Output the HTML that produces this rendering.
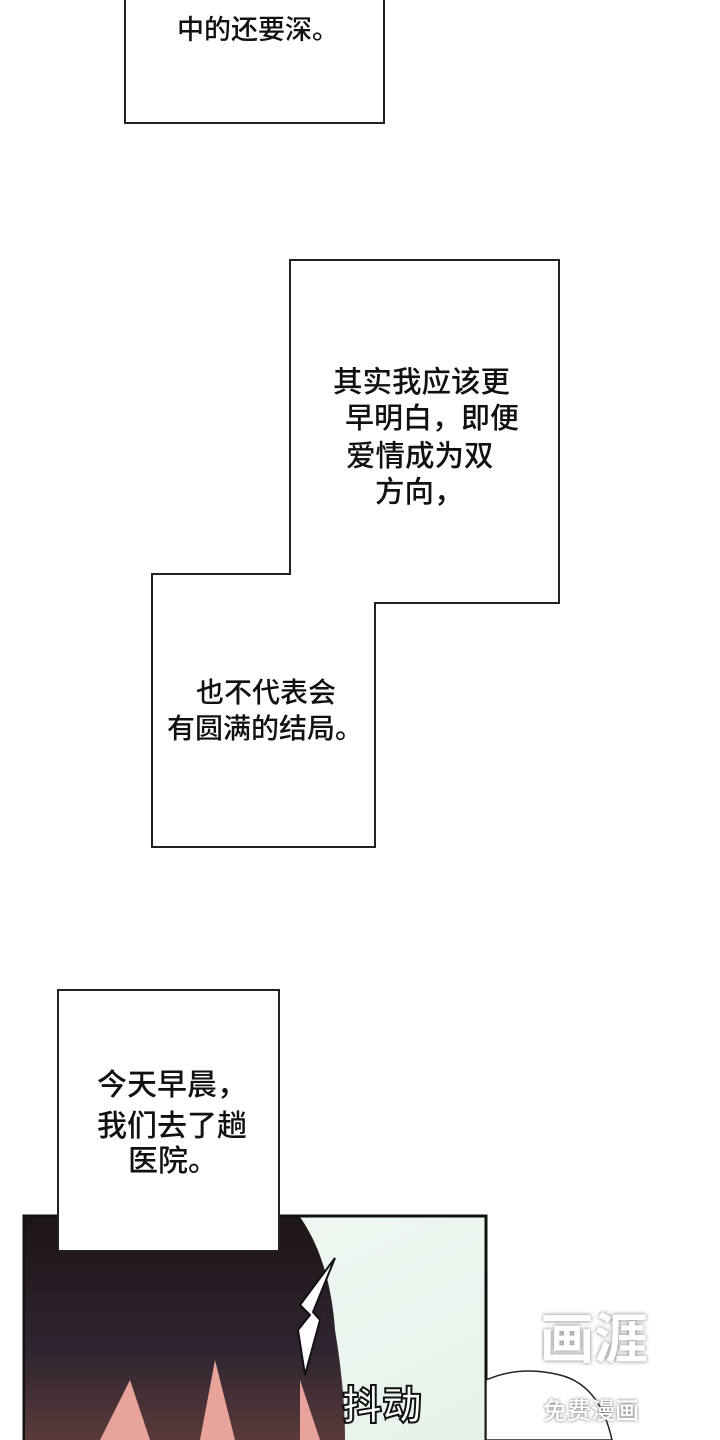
<!DOCTYPE html>
<html><head><meta charset="utf-8"><style>
body{margin:0;width:720px;height:1440px;background:#fff;position:relative;overflow:hidden;font-family:"Liberation Sans","Noto Sans CJK SC",sans-serif;color:#111}
.t{position:absolute;font-size:28px;line-height:37px;white-space:nowrap;font-weight:500}
</style></head><body>
<svg width="720" height="1440" style="position:absolute;left:0;top:0">
<defs>
<linearGradient id="hair" x1="0" y1="0" x2="0" y2="1"><stop offset="0" stop-color="#1c1518"/><stop offset="0.6" stop-color="#2f2530"/><stop offset="1" stop-color="#5a3a3a"/></linearGradient>
<linearGradient id="bg" x1="0" y1="0" x2="1" y2="1"><stop offset="0" stop-color="#f4f8f4"/><stop offset="1" stop-color="#e6f2ea"/></linearGradient>
</defs>
<rect x="125" y="-5" width="259" height="128" fill="#fff" stroke="#222" stroke-width="2"/>
<polygon points="290,260 559,260 559,603 375,603 375,847 152,847 152,574 290,574" fill="#fff" stroke="#222" stroke-width="2"/>
<rect x="24" y="1216" width="462" height="230" fill="url(#bg)" stroke="#111" stroke-width="3"/>
<path d="M25,1217 L300,1217 Q330,1260 335,1330 Q345,1390 345,1440 L25,1440 Z" fill="url(#hair)"/>
<path d="M100,1440 L130,1380 L150,1440 Z M200,1440 L215,1360 L235,1440 Z M300,1440 L300,1380 L320,1440Z" fill="#e8a49a"/>
<path d="M486,1380 Q520,1365 560,1375 Q600,1385 612,1440 L486,1440 Z" fill="#fff" stroke="#222" stroke-width="1.5"/>
<path d="M335,1258 L300,1305 L310,1315 L298,1330 L305,1375 L320,1320 L313,1312 Z" fill="#fff" stroke="#111" stroke-width="2"/>
<rect x="58" y="990" width="221" height="261" fill="#fff" stroke="#222" stroke-width="2"/>
</svg>
<div class="t" style="left:177px;top:12px;font-size:27px">中的还要深。</div>
<div class="t" style="left:333px;top:364px;font-size:29.5px">其实我应该更</div>
<div class="t" style="left:345px;top:401px;font-size:29px">早明白，即便</div>
<div class="t" style="left:346px;top:438px;font-size:29.5px">爱情成为双</div>
<div class="t" style="left:375px;top:474px;font-size:29.5px">方向，</div>
<div class="t" style="left:196px;top:674px">也不代表会</div>
<div class="t" style="left:167px;top:710px">有圆满的结局。</div>
<div class="t" style="left:97px;top:1067px;font-size:30px">今天早晨，</div>
<div class="t" style="left:97px;top:1108px;font-size:30px">我们去了趟</div>
<div class="t" style="left:128px;top:1143px;font-size:30px">医院。</div>
<div class="t" style="left:342px;top:1388px;font-size:40px;font-weight:bold;color:#fff;-webkit-text-stroke:2px #111">抖动</div>
<div class="t" style="left:540px;top:1322px;font-size:54px;font-weight:bold;color:#fff;text-shadow:0 0 4px #777">画涯</div>
<div class="t" style="left:543px;top:1393px;font-size:24px;color:#fff;text-shadow:0 0 3px #666">免费漫画</div>
</body></html>
